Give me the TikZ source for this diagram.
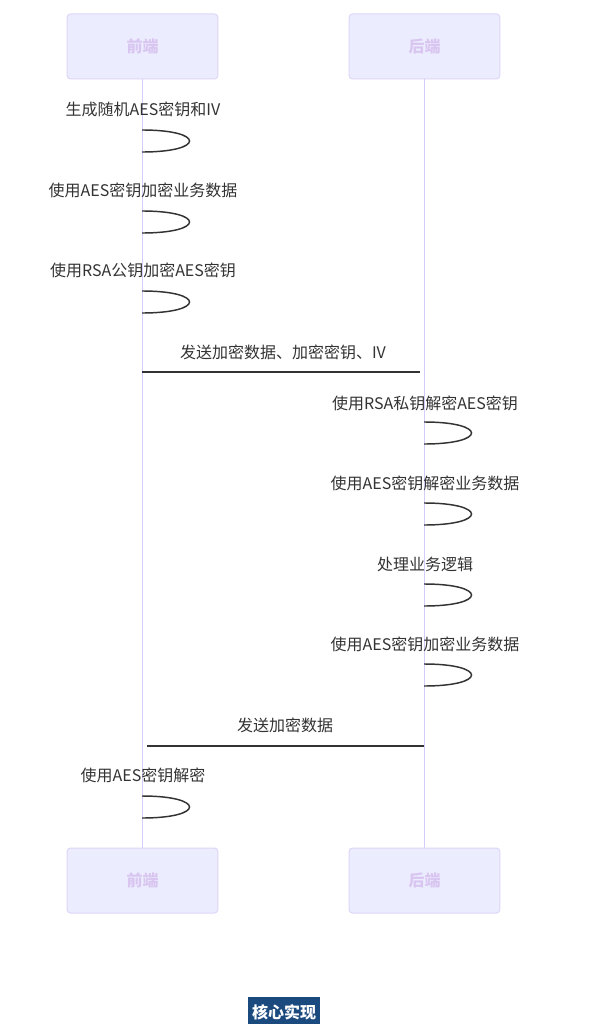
\documentclass[tikz,border=0pt]{standalone}
\usepackage{fontspec}
\setmainfont{Noto Sans CJK SC}
\definecolor{actorfill}{HTML}{ECECFF}
\definecolor{actorline}{HTML}{DDD5F7}
\definecolor{actortext}{HTML}{D9C6F0}
\definecolor{lifeline}{HTML}{D6CCF8}
\definecolor{msgtext}{HTML}{333333}
\definecolor{badgeblue}{HTML}{1B4A7E}

\begin{document}
\begin{tikzpicture}[x=0.75pt,y=-0.75pt,
    actor/.style={draw=actorline, fill=actorfill, line width=0.75pt, rounded corners=2.5pt,
      minimum width=113pt, minimum height=48.75pt, text=actortext,
      font=\bfseries\fontsize{12}{14}\selectfont},
    msg/.style={text=msgtext, inner sep=0pt, font=\fontsize{12}{14}\selectfont},
    selfloop/.style={draw=msgtext, line width=1.1pt},
    msgline/.style={draw=msgtext, line width=1.5pt}]
            \useasboundingbox (0,0) rectangle (611,1024);

            % participants
            \node[actor] (fe) at (142.5,46.5) {前端};
            \node[actor] (be) at (424.5,46.5) {后端};
            \node[actor] (feb) at (142.5,880.5) {前端};
            \node[actor] (beb) at (424.5,880.5) {后端};

            % lifelines
            \draw[lifeline, line width=1.4pt] (fe.south) -- (feb.north);
            \draw[lifeline, line width=1.4pt] (be.south) -- (beb.north);

            % self messages
            \foreach \n/\lx/\ly/\ty/\txt in {
                1/142/109/130/生成随机AES密钥和IV,
                2/142/190/211/使用AES密钥加密业务数据,
                3/142/270/291/使用RSA公钥加密AES密钥,
                5/424/403/422/使用RSA私钥解密AES密钥,
                6/424/483/503/使用AES密钥解密业务数据,
                7/424/564/584/处理业务逻辑,
                8/424/644/664/使用AES密钥加密业务数据,
                10/142/775/796/使用AES密钥解密}{
                \node[msg] (l\n) at (\lx+1,\ly) {\txt};
                \coordinate (s\n) at (\lx,\ty);
                \coordinate (e\n) at (\lx,\ty+22);
                \draw[selfloop] (s\n) .. controls ([xshift=47.5pt]s\n) and ([xshift=47.5pt]e\n) .. (e\n);
            }

            % messages between participants
            \node[msg] (l4) at (283,352) {发送加密数据、加密密钥、IV};
            \coordinate (a4) at (142,372);
            \coordinate (b4) at (420,372);
            \draw[msgline] (a4) -- (b4);

            \node[msg] (l9) at (285,725) {发送加密数据};
            \coordinate (a9) at (424,746);
            \coordinate (b9) at (147,746);
            \draw[msgline] (a9) -- (b9);

            % caption
            \node[fill=badgeblue, text=white, inner sep=2pt, minimum width=54pt, minimum height=22pt,
              font=\bfseries\fontsize{12}{14}\selectfont] (badge) at (284,1012) {核心实现};
        \end{tikzpicture}
\end{document}
